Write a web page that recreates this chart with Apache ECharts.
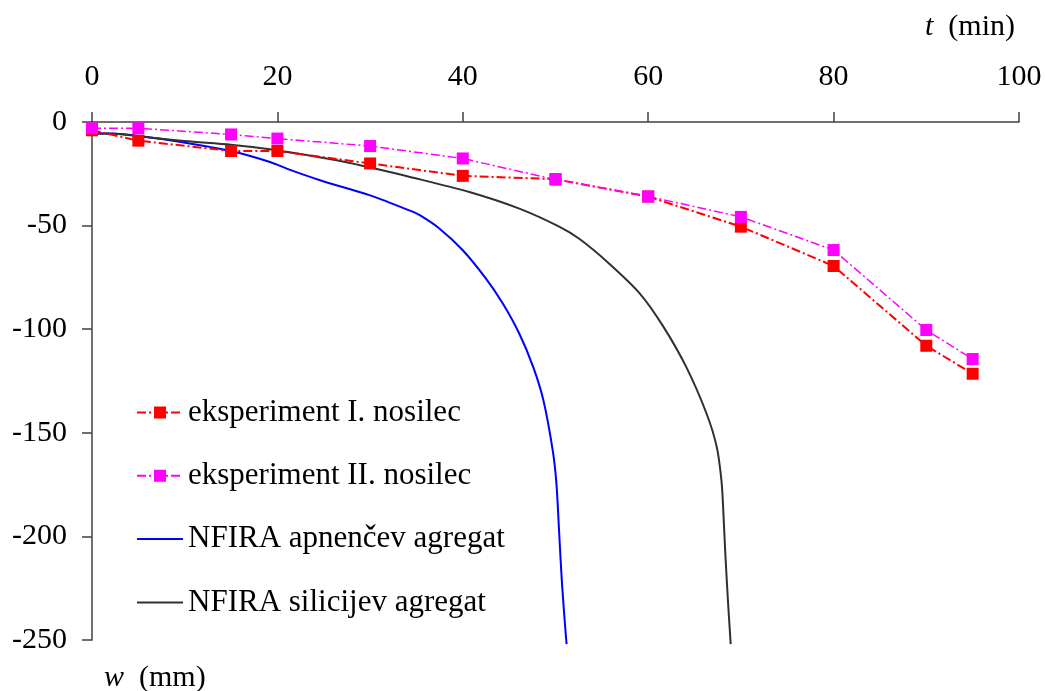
<!DOCTYPE html>
<html>
<head>
<meta charset="utf-8">
<title>Povesi nosilca med požarom</title>
<script src="https://cdn.jsdelivr.net/npm/echarts@6/dist/echarts.min.js"></script>
<style>
  html, body { margin: 0; padding: 0; background: #ffffff; }
  #chart { width: 1046px; height: 691px; }
</style>
</head>
<body>
<div id="chart"></div>
<script>
// Measured times (min) for both test beams
const testTimes = [0, 5, 15, 20, 30, 40, 50, 60, 70, 80, 90, 95];
// Measured deflections w (mm), beam I
const beamI = [-4, -9, -14, -14, -20, -26, -27.6, -36, -50.5, -69.5, -108, -121.5];
// Measured deflections w (mm), beam II
const beamII = [-3, -3, -6, -8, -11.6, -17.6, -27.8, -35.9, -45.8, -61.8, -100.4, -114.4];

// NFIRA simulation, calcareous aggregate
const limeT = [0, 2, 5, 9.6, 15, 19.2, 21.3, 24.6, 30, 34.3, 35.4, 37.5, 40, 42.5, 44.3, 46.1, 47.6, 48.7, 49.7, 50.1, 50.4, 50.7, 51.1, 51.2];
const limeW = [-5.5, -5.6, -6.7, -9.6, -14, -19.3, -23, -28.1, -35.4, -42.8, -45.1, -51.5, -61.9, -75.6, -87.5, -102.2, -118.3, -134.4, -158.5, -174.5, -198.6, -222.8, -246.9, -252];

// NFIRA simulation, siliceous aggregate
const silT = [0, 2.5, 5, 10, 15, 19.2, 26.4, 30, 34.3, 40.7, 46.1, 50.4, 52.6, 55.8, 59.1, 61.6, 64.1, 66.3, 67.4, 67.9, 68.1, 68.3, 68.6, 68.9];
const silW = [-5.6, -5.7, -6.9, -9.2, -11, -13.2, -18.5, -22, -26.5, -33.8, -41.8, -50.5, -56.5, -68.4, -82.8, -98.5, -118.2, -140.8, -156.9, -173, -187.4, -206.7, -230.8, -252];

// Axis ticks
const xTicks = { min: 0, max: 100, step: 20 };
const yTicks = { min: -250, max: 0, step: 50 };

const seriesNames = [
  'eksperiment I. nosilec',
  'eksperiment II. nosilec',
  'NFIRA apnenčev agregat',
  'NFIRA silicijev agregat'
];

const zip = (a, b) => a.map((v, i) => [v, b[i]]);

const FONT = '"Liberation Serif", "Times New Roman", serif';
const AXIS_COLOR = '#404040';
const dashDot = [9, 3, 2, 3];

const chart = echarts.init(document.getElementById('chart'), null, { renderer: 'canvas' });

chart.setOption({
  animation: false,
  backgroundColor: '#ffffff',
  textStyle: { fontFamily: FONT },
  grid: { left: 92, right: 27, top: 122, bottom: 51, containLabel: false },
  xAxis: {
    type: 'value',
    position: 'top',
    min: xTicks.min,
    max: xTicks.max,
    interval: xTicks.step,
    axisLine: { show: true, onZero: false, lineStyle: { color: AXIS_COLOR, width: 1.5 } },
    axisTick: { show: true, inside: false, length: 10, lineStyle: { color: AXIS_COLOR, width: 1.5 } },
    axisLabel: { margin: 30, fontSize: 30, color: '#000', fontFamily: FONT },
    splitLine: { show: false }
  },
  yAxis: {
    type: 'value',
    min: yTicks.min,
    max: yTicks.max,
    interval: yTicks.step,
    axisLine: { show: true, onZero: false, lineStyle: { color: AXIS_COLOR, width: 1.5 } },
    axisTick: { show: true, inside: false, length: 10, lineStyle: { color: AXIS_COLOR, width: 1.5 } },
    axisLabel: { margin: 25, fontSize: 30, color: '#000', fontFamily: FONT },
    splitLine: { show: false }
  },
  legend: {
    orient: 'vertical',
    left: 136,
    top: 397,
    padding: 0,
    itemWidth: 46,
    itemHeight: 15,
    itemGap: 32.3,
    data: [
      { name: seriesNames[0] },
      { name: seriesNames[1] },
      { name: seriesNames[2], itemStyle: { opacity: 0 } },
      { name: seriesNames[3], itemStyle: { opacity: 0 } }
    ],
    textStyle: { fontSize: 31, color: '#000', fontFamily: FONT, lineHeight: 30 }
  },
  graphic: [
    {
      type: 'text',
      left: 925,
      top: 12,
      style: {
        text: '{i|t}  (min)',
        rich: {
          i: { fontStyle: 'italic', fontSize: 30, fontFamily: FONT, fill: '#000' }
        },
        fontSize: 30,
        fontFamily: FONT,
        fill: '#000'
      }
    },
    {
      type: 'text',
      left: 104,
      top: 663,
      style: {
        text: '{i|w}  (mm)',
        rich: {
          i: { fontStyle: 'italic', fontSize: 30, fontFamily: FONT, fill: '#000' }
        },
        fontSize: 30,
        fontFamily: FONT,
        fill: '#000'
      }
    }
  ],
  series: [
    {
      name: seriesNames[0],
      type: 'line',
      z: 3,
      data: zip(testTimes, beamI),
      symbol: 'rect',
      symbolSize: 12,
      itemStyle: { color: '#ff0000' },
      lineStyle: { color: '#ff0000', width: 2, type: dashDot }
    },
    {
      name: seriesNames[1],
      type: 'line',
      z: 4,
      data: zip(testTimes, beamII),
      symbol: 'rect',
      symbolSize: 12,
      itemStyle: { color: '#ff00ff' },
      lineStyle: { color: '#ff00ff', width: 1.5, type: dashDot }
    },
    {
      name: seriesNames[2],
      type: 'line',
      z: 2,
      clip: false,
      data: zip(limeT, limeW),
      showSymbol: false,
      symbol: 'none',
      smooth: 0.3,
      itemStyle: { color: '#0000ff' },
      lineStyle: { color: '#0000ff', width: 2 }
    },
    {
      name: seriesNames[3],
      type: 'line',
      z: 2,
      clip: false,
      data: zip(silT, silW),
      showSymbol: false,
      symbol: 'none',
      smooth: 0.3,
      itemStyle: { color: '#303030' },
      lineStyle: { color: '#303030', width: 2 }
    }
  ]
});
</script>
</body>
</html>
